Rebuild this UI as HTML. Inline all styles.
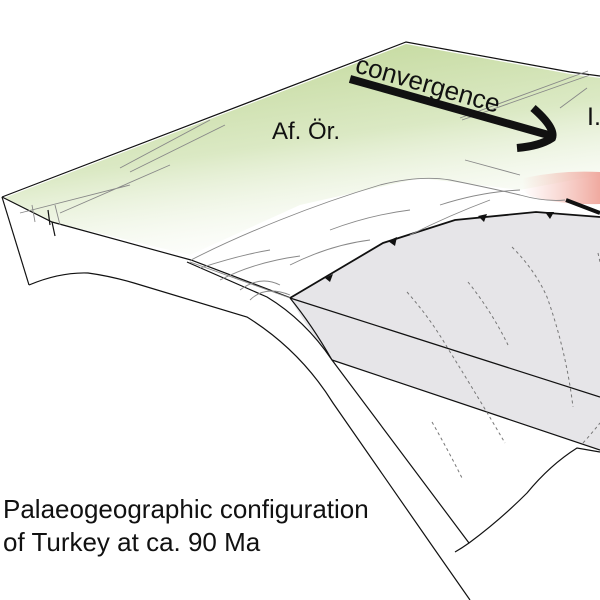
<!DOCTYPE html>
<html><head><meta charset="utf-8"><style>
html,body{margin:0;padding:0;background:#fff;}
svg{display:block;}
text{font-family:"Liberation Sans",sans-serif;fill:#111;}
</style></head><body>
<svg width="600" height="600" viewBox="0 0 600 600" xmlns="http://www.w3.org/2000/svg">
<defs>
<linearGradient id="g" x1="0.35" y1="0" x2="0.75" y2="1">
<stop offset="0" stop-color="#c2d89a"/>
<stop offset="0.45" stop-color="#dbe9c4"/>
<stop offset="1" stop-color="#ffffff" stop-opacity="0"/>
</linearGradient>
<linearGradient id="p" x1="0" y1="0" x2="1" y2="0">
<stop offset="0" stop-color="#f3b8ae" stop-opacity="0"/>
<stop offset="1" stop-color="#f0aaa0"/>
</linearGradient>
</defs>
<path d="M4,198 L406,44 L570,74 L600,78 L600,175 L520,190 L420,178 L300,205 L190,255 L52,222 Z" fill="url(#g)"/>
<path d="M524,178 Q560,170 600,172 L600,204 Q560,205 530,196 Q518,188 524,178 Z" fill="url(#p)"/>
<path d="M290,298 L383,243 L455,220 L536,212 L600,217 L600,450 L332,360 Q305,325 290,298 Z" fill="#e6e5e8"/>
<g fill="none" stroke="#111" stroke-width="1.2">
<path d="M2,197 L406,42 L570,72 L600,76"/>
<path d="M2,197 L52,222 L191,260 L291,298"/>
<path d="M2,197 L29,285"/>
<path d="M29,285 Q60,272 88,273 Q110,276 134,283 L247,317 Q300,350 333,403 L433,547 L470,600"/>
<path d="M187,262 L267,297 Q305,320 332,360 L469,543"/>
<path d="M455,552 Q462,548 469,543 Q500,520 527,493 Q550,465 577,448 L600,452"/>
<path d="M290,298 L600,397"/>
<path d="M332,360 L600,450"/>
<path d="M290,298 Q312,325 332,360"/>
<path d="M52,222 L55,236 M48,210 L50,225"/>
</g>
<path d="M290,298 L383,243 L455,220 L536,212 L600,217" fill="none" stroke="#111" stroke-width="1.8"/>
<g fill="#111">
<path d="M325,278 L333,274 L330,282Z"/>
<path d="M388,241 L397,237 L395,246Z"/>
<path d="M478,216 L487,214 L484,222Z"/>
<path d="M545,212 L554,212 L550,219Z"/>
</g>
<g fill="none" stroke="#888" stroke-width="0.9">
<path d="M191,260 Q230,240 280,220 Q330,200 380,185 Q420,175 450,180 Q490,188 520,195 Q545,202 565,200"/>
<path d="M200,268 Q240,255 270,250 M220,280 Q255,262 300,256 M290,265 Q330,245 370,240 M330,230 Q370,215 410,210 M410,235 Q450,215 490,200 M440,205 Q480,192 520,190"/>
<path d="M240,290 Q260,275 280,285 M250,300 Q265,285 290,295 M190,262 L290,298"/>
<path d="M462,120 L590,75 M460,118 L588,71"/>
<path d="M465,160 L520,175"/>
<path d="M560,108 L587,88"/>
<path d="M20,213 L130,185 M60,213 L170,165 M120,168 L210,120 M130,172 L225,125"/>
<path d="M55,205 L60,225 M32,205 L35,222"/>
</g>
<g fill="none" stroke="#777" stroke-width="1" stroke-dasharray="3,3">
<path d="M407,292 Q430,318 447,347 Q480,400 505,443"/>
<path d="M468,282 Q492,312 508,345"/>
<path d="M512,247 Q535,270 547,297 Q566,350 573,407"/>
<path d="M432,422 Q448,450 462,478"/>
<path d="M598,253 L600,262"/>
<path d="M583,443 Q592,433 600,423"/>
</g>
<path d="M350,79 L552,136" stroke="#111" stroke-width="8" fill="none"/>
<path d="M533,108 Q556,128 552,138 Q540,146 517,148" stroke="#111" stroke-width="8" fill="none"/>
<path d="M566,200 L600,213" stroke="#111" stroke-width="4"/>
<text x="0" y="0" font-size="26" transform="translate(354,72) rotate(16)">convergence</text>
<text x="587" y="125" font-size="25">I.</text>
<text x="272" y="139" font-size="24">Af. Ör.</text>
<text x="3" y="518" font-size="26">Palaeogeographic configuration</text>
<text x="3" y="551" font-size="26">of Turkey at ca. 90 Ma</text>
</svg>
</body></html>
